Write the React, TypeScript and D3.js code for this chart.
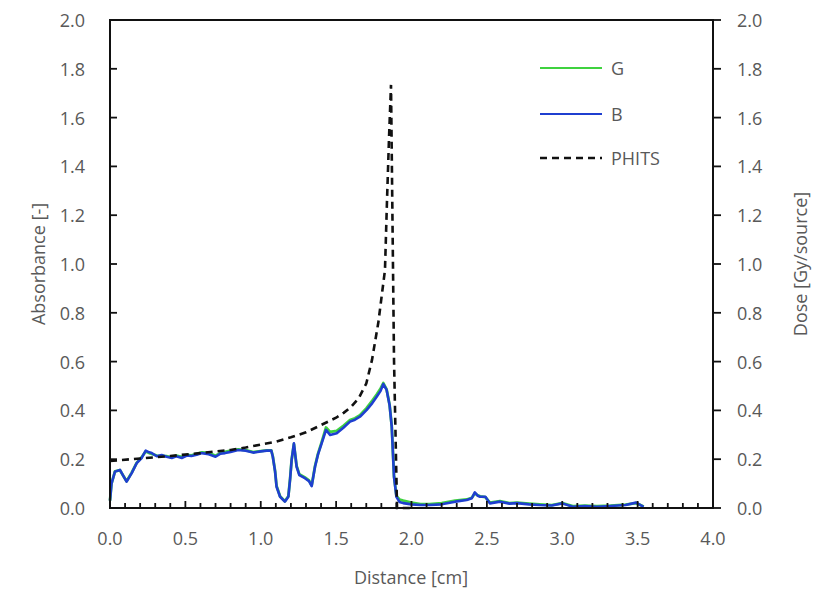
import React from "react";
import * as d3 from "d3";

const distance = [0, 0.01, 0.033, 0.066, 0.09, 0.11, 0.144, 0.177, 0.21, 0.237, 0.26, 0.277, 0.31, 0.343, 0.375, 0.41, 0.44, 0.476, 0.51, 0.54, 0.575, 0.61, 0.655, 0.70, 0.73, 0.763, 0.80, 0.85, 0.9, 0.95, 1.0, 1.04, 1.07, 1.08, 1.095, 1.105, 1.128, 1.16, 1.183, 1.195, 1.205, 1.22, 1.238, 1.256, 1.293, 1.32, 1.338, 1.36, 1.38, 1.404, 1.433, 1.46, 1.504, 1.55, 1.592, 1.625, 1.658, 1.703, 1.74, 1.769, 1.795, 1.813, 1.835, 1.855, 1.869, 1.884, 1.90, 1.92, 1.945, 2.0, 2.06, 2.12, 2.2, 2.29, 2.366, 2.40, 2.42, 2.44, 2.455, 2.49, 2.52, 2.587, 2.65, 2.70, 2.78, 2.85, 2.93, 3.0, 3.07, 3.15, 3.23, 3.32, 3.42, 3.49, 3.54];

const seriesB = [0.03, 0.10, 0.149, 0.156, 0.13, 0.108, 0.143, 0.184, 0.205, 0.235, 0.228, 0.225, 0.212, 0.217, 0.21, 0.205, 0.212, 0.205, 0.215, 0.213, 0.218, 0.225, 0.22, 0.21, 0.222, 0.225, 0.23, 0.238, 0.235, 0.227, 0.232, 0.235, 0.235, 0.21, 0.15, 0.087, 0.046, 0.026, 0.046, 0.12, 0.197, 0.265, 0.169, 0.135, 0.122, 0.11, 0.09, 0.169, 0.22, 0.265, 0.32, 0.299, 0.306, 0.33, 0.354, 0.362, 0.374, 0.402, 0.43, 0.456, 0.48, 0.508, 0.484, 0.42, 0.333, 0.128, 0.046, 0.025, 0.02, 0.015, 0.012, 0.012, 0.015, 0.026, 0.033, 0.04, 0.064, 0.05, 0.046, 0.046, 0.019, 0.026, 0.018, 0.02, 0.015, 0.012, 0.01, 0.019, 0.005, 0.008, 0.005, 0.008, 0.012, 0.022, 0.005];

const seriesG = [0.03, 0.10, 0.15, 0.155, 0.13, 0.11, 0.145, 0.185, 0.208, 0.232, 0.225, 0.222, 0.215, 0.214, 0.213, 0.208, 0.215, 0.21, 0.218, 0.216, 0.222, 0.228, 0.226, 0.214, 0.225, 0.23, 0.235, 0.24, 0.237, 0.229, 0.233, 0.236, 0.236, 0.212, 0.152, 0.09, 0.048, 0.028, 0.048, 0.122, 0.199, 0.262, 0.172, 0.138, 0.125, 0.113, 0.093, 0.172, 0.223, 0.27, 0.33, 0.312, 0.316, 0.338, 0.36, 0.368, 0.38, 0.41, 0.44, 0.465, 0.49, 0.512, 0.486, 0.422, 0.335, 0.13, 0.05, 0.035, 0.03, 0.022, 0.016, 0.016, 0.02, 0.03, 0.035, 0.042, 0.06, 0.052, 0.048, 0.045, 0.022, 0.028, 0.02, 0.022, 0.018, 0.015, 0.012, 0.02, 0.008, 0.01, 0.008, 0.01, 0.014, 0.02, 0.006];

const phitsX = [0, 0.2, 0.4, 0.6, 0.8, 0.9, 1.0, 1.1, 1.2, 1.3, 1.4, 1.5, 1.55, 1.6, 1.65, 1.7, 1.738, 1.78, 1.824, 1.837, 1.851, 1.864, 1.884, 1.904, 2.0];
const phitsY = [0.193, 0.203, 0.213, 0.225, 0.238, 0.248, 0.26, 0.272, 0.29, 0.31, 0.34, 0.37, 0.39, 0.415, 0.45, 0.51, 0.607, 0.76, 0.975, 1.25, 1.52, 1.734, 0.607, 0, 0];

const xTicks = [0, 0.5, 1.0, 1.5, 2.0, 2.5, 3.0, 3.5, 4.0];
const yTicks = [0, 0.2, 0.4, 0.6, 0.8, 1.0, 1.2, 1.4, 1.6, 1.8, 2.0];
const legendItems = ["G", "B", "PHITS"];

const W = 819, H = 589;
const L = 110, R = 713, T = 20, B = 508;
const FONT = "'Open Sans', Lato, sans-serif";
const FS = 18;
const TXT = "#595959";
const GREEN = "#3fd23f";
const BLUE = "#1f3fd0";

export default function App() {
  const x = d3.scaleLinear().domain([0, 4]).range([L, R]);
  const yL = d3.scaleLinear().domain([0, 2]).range([B, T]);
  const yR = d3.scaleLinear().domain([0, 2]).range([B, T]);

  const line = d3.line<[number, number]>().x(d => x(d[0])).y(d => yL(d[1]));
  const lineR = d3.line<[number, number]>().x(d => x(d[0])).y(d => yR(d[1]));

  const gPts = distance.map((d, i) => [d, seriesG[i]] as [number, number]);
  const bPts = distance.map((d, i) => [d, seriesB[i]] as [number, number]);
  const pPts = phitsX.map((d, i) => [d, phitsY[i]] as [number, number]);

  const minorX = d3.range(0, 41).map(i => i / 10);

  const legendY = [68, 114, 158];

  return (
    <svg width={W} height={H} style={{ position: "absolute", left: 0, top: 0, background: "#fff" }}>
      <rect x={0} y={0} width={W} height={H} fill="#fff" />
      <path d={line(gPts) || ""} fill="none" stroke={GREEN} strokeWidth={2.8} strokeLinejoin="round" />
      <path d={line(bPts) || ""} fill="none" stroke={BLUE} strokeWidth={2.6} strokeLinejoin="round" />
      <path d={lineR(pPts) || ""} fill="none" stroke="#111" strokeWidth={2.6} strokeDasharray="7,5" />

      {/* frame */}
      <rect x={L} y={T} width={R - L} height={B - T} fill="none" stroke="#111" strokeWidth={2} />

      {/* x ticks */}
      {minorX.map((v, i) => {
        const major = i % 5 === 0;
        return <line key={"xm" + i} x1={x(v)} x2={x(v)} y1={B} y2={B - (major ? 7 : 5)} stroke="#111" strokeWidth={1.8} />;
      })}
      {xTicks.map(v => (
        <text key={"xt" + v} x={x(v)} y={538} textAnchor="middle" dominantBaseline="central" fontFamily={FONT} fontSize={FS} fill={TXT}>
          {v.toFixed(1)}
        </text>
      ))}

      {/* left y ticks */}
      {yTicks.map(v => (
        <g key={"yl" + v}>
          <line x1={L} x2={L + 7} y1={yL(v)} y2={yL(v)} stroke="#111" strokeWidth={1.8} />
          <text x={85} y={yL(v)} textAnchor="end" dominantBaseline="central" fontFamily={FONT} fontSize={FS} fill={TXT}>
            {v.toFixed(1)}
          </text>
        </g>
      ))}

      {/* right y ticks */}
      {yTicks.map(v => (
        <g key={"yr" + v}>
          <line x1={R} x2={R + 8} y1={yR(v)} y2={yR(v)} stroke="#111" strokeWidth={1.8} />
          <text x={737} y={yR(v)} textAnchor="start" dominantBaseline="central" fontFamily={FONT} fontSize={FS} fill={TXT}>
            {v.toFixed(1)}
          </text>
        </g>
      ))}

      {/* axis titles */}
      <text x={411} y={577} textAnchor="middle" dominantBaseline="central" fontFamily={FONT} fontSize={FS} fill={TXT}>Distance [cm]</text>
      <text transform={`translate(38,${(T + B) / 2}) rotate(-90)`} textAnchor="middle" dominantBaseline="central" fontFamily={FONT} fontSize={FS} fill={TXT}>Absorbance [-]</text>
      <text transform={`translate(800,${(T + B) / 2}) rotate(-90)`} textAnchor="middle" dominantBaseline="central" fontFamily={FONT} fontSize={FS} fill={TXT}>Dose [Gy/source]</text>

      {/* legend */}
      {legendItems.map((name, i) => (
        <g key={name}>
          <line x1={540} x2={602} y1={legendY[i]} y2={legendY[i]}
            stroke={i === 0 ? GREEN : i === 1 ? BLUE : "#111"} strokeWidth={i === 2 ? 2.6 : 2.2}
            strokeDasharray={i === 2 ? "7,5" : undefined} />
          <text x={611} y={legendY[i]} dominantBaseline="central" fontFamily={FONT} fontSize={FS} fill={TXT}>{name}</text>
        </g>
      ))}
    </svg>
  );
}
